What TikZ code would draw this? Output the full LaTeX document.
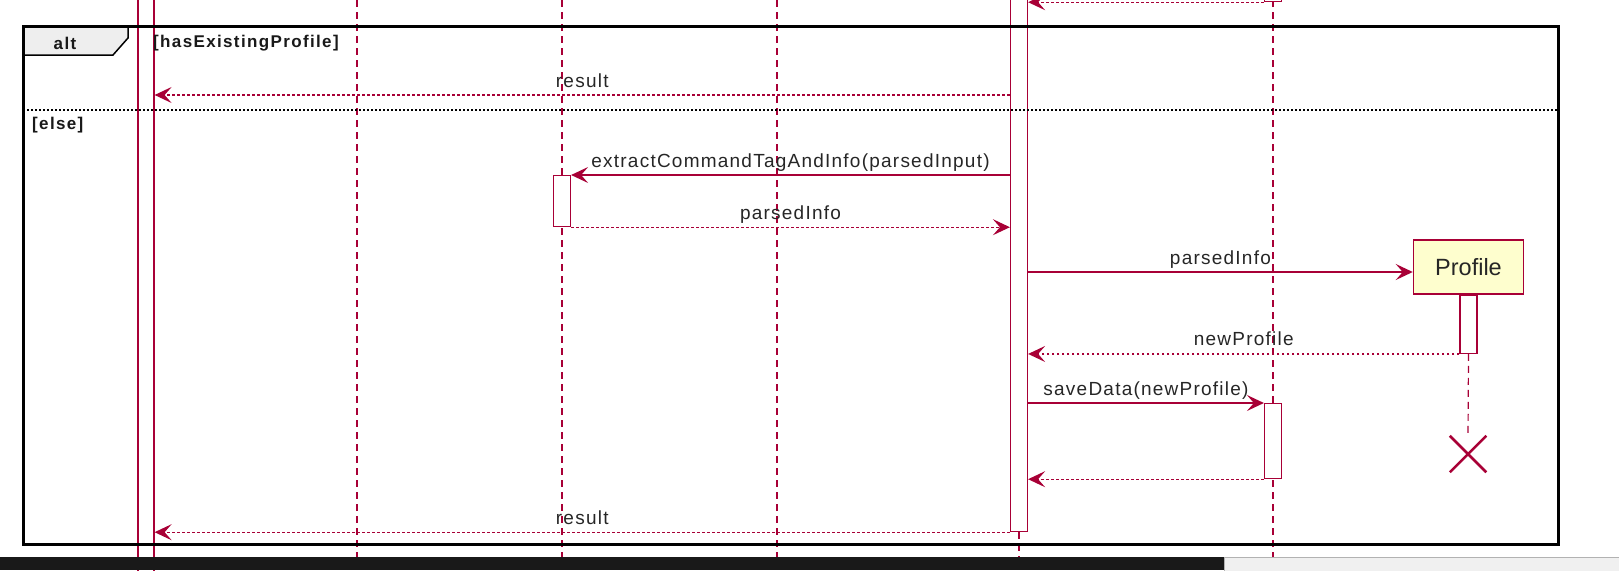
\documentclass[tikz,border=0pt]{standalone}
\usepackage{fontspec}
\setmainfont{Liberation Sans}
\newfontfamily\msgfont{Liberation Sans}[LetterSpace=6.5]
\newfontfamily\grdfont{Liberation Sans}[LetterSpace=8]
\usetikzlibrary{arrows.meta, positioning, shapes.misc}
\definecolor{umlred}{HTML}{A80036}
\definecolor{umlfill}{HTML}{FEFECE}
\definecolor{tabgray}{HTML}{EEEEEE}

\begin{document}
\begin{tikzpicture}[x=1pt, y=-1pt,
  lifeline/.style={umlred, line width=1.2pt, dash pattern=on 7pt off 5pt},
  actbar/.style={draw=umlred, fill=white, line width=1.2pt, minimum width=17pt, inner sep=0pt},
  call/.style={umlred, line width=1.3pt, -{Stealth[length=17pt, width=16pt, inset=7pt]}},
  ret/.style={call, dash pattern=on 2.5pt off 2.5pt},
  msg/.style={font=\msgfont\fontsize{19}{22}\selectfont, text=black!85, anchor=base,
              yshift=8pt, inner sep=0pt},
  guard/.style={font=\grdfont\bfseries\fontsize{17}{20}\selectfont, text=black!90, inner sep=0pt},
  part/.style={draw=umlred, fill=umlfill, line width=1.5pt, minimum width=110pt,
               minimum height=54pt, text=black!85, font=\fontsize{23.5}{28}\selectfont}]

  \useasboundingbox (0,0) rectangle (1619,570);
  \clip (0,0) rectangle (1619,570);

  % lifelines
  \draw[lifeline] (357,0) -- (357,557);
  \draw[lifeline] (562,0) -- (562,557);
  \draw[lifeline] (777,0) -- (777,557);
  \draw[lifeline] (1019,520) -- (1019,557);
  \draw[lifeline] (1273,0) -- (1273,557);

  % activations
  \node[actbar, minimum width=16pt, minimum height=600pt, anchor=north] (uibar) at (146,-15) {};
  \node[actbar, minimum height=546pt, anchor=north] (cmdbar) at (1019,-15) {};
  \node[actbar, minimum height=51pt, anchor=north] (parsebar) at (562,175) {};
  \node[actbar, minimum height=31pt, anchor=north] (stbar0) at (1273,-30) {};
  \node[actbar, minimum height=75pt, anchor=north] (stbar) at (1273,403) {};

  \node[part] (profile) at (1468.5,267) {Profile};
  \node[actbar, minimum height=58pt, anchor=north] (profbar) at (profile.south) {};
  \node[draw=umlred, cross out, line width=2.5pt, minimum size=34pt, inner sep=0pt] (kill) at (1468,454) {};
  \draw[lifeline] (profbar.south) -- (kill.north);

  % alt frame
  \draw[line width=1.5pt, fill=tabgray] (23,26) -- (128,26) -- (128,38) -- (113,55) -- (23,55);
  \draw[line width=1.3pt, dash pattern=on 2pt off 2pt] (23,110) -- (1558,110);
  \node[guard] (altlbl) at (65,43) {alt};
  \node[guard, anchor=west] (cond) at (153,43) {[hasExistingProfile]};
  \node[guard, anchor=west] (elselbl) at (32,125) {[else]};
  \draw[line width=3pt] (23,26) rectangle (1558,544);

  % messages
  \coordinate (r1) at (0,95);
  \coordinate (r5) at (0,272);
  \draw[ret] (stbar0.south west) -- (cmdbar.east |- stbar0.south);
  \draw[ret] (cmdbar.west |- r1) -- (uibar.east |- r1) node[msg, midway] {result};
  \draw[call] (cmdbar.west |- parsebar.north) -- (parsebar.north east)
    node[msg, midway] {extractCommandTagAndInfo(parsedInput)};
  \draw[ret] (parsebar.south east) -- (cmdbar.west |- parsebar.south) node[msg, midway] {parsedInfo};
  \draw[call] (cmdbar.east |- r5) -- (profile.west |- r5) node[msg, midway] {parsedInfo};
  \draw[ret] (profbar.south west) -- (cmdbar.east |- profbar.south) node[msg, midway] {newProfile};
  \draw[call] (cmdbar.east |- stbar.north) -- (stbar.north west) node[msg, midway] {saveData(newProfile)};
  \draw[ret] (stbar.south west) -- (cmdbar.east |- stbar.south);
  \draw[ret] (cmdbar.south west) -- (uibar.east |- cmdbar.south) node[msg, midway] {result};

  % window edge
  \fill[black!90] (0,557) rectangle (1224,570);
  \draw[fill=black!6, draw=black!30] (1224,557) rectangle (1625,575);
\end{tikzpicture}
\end{document}
